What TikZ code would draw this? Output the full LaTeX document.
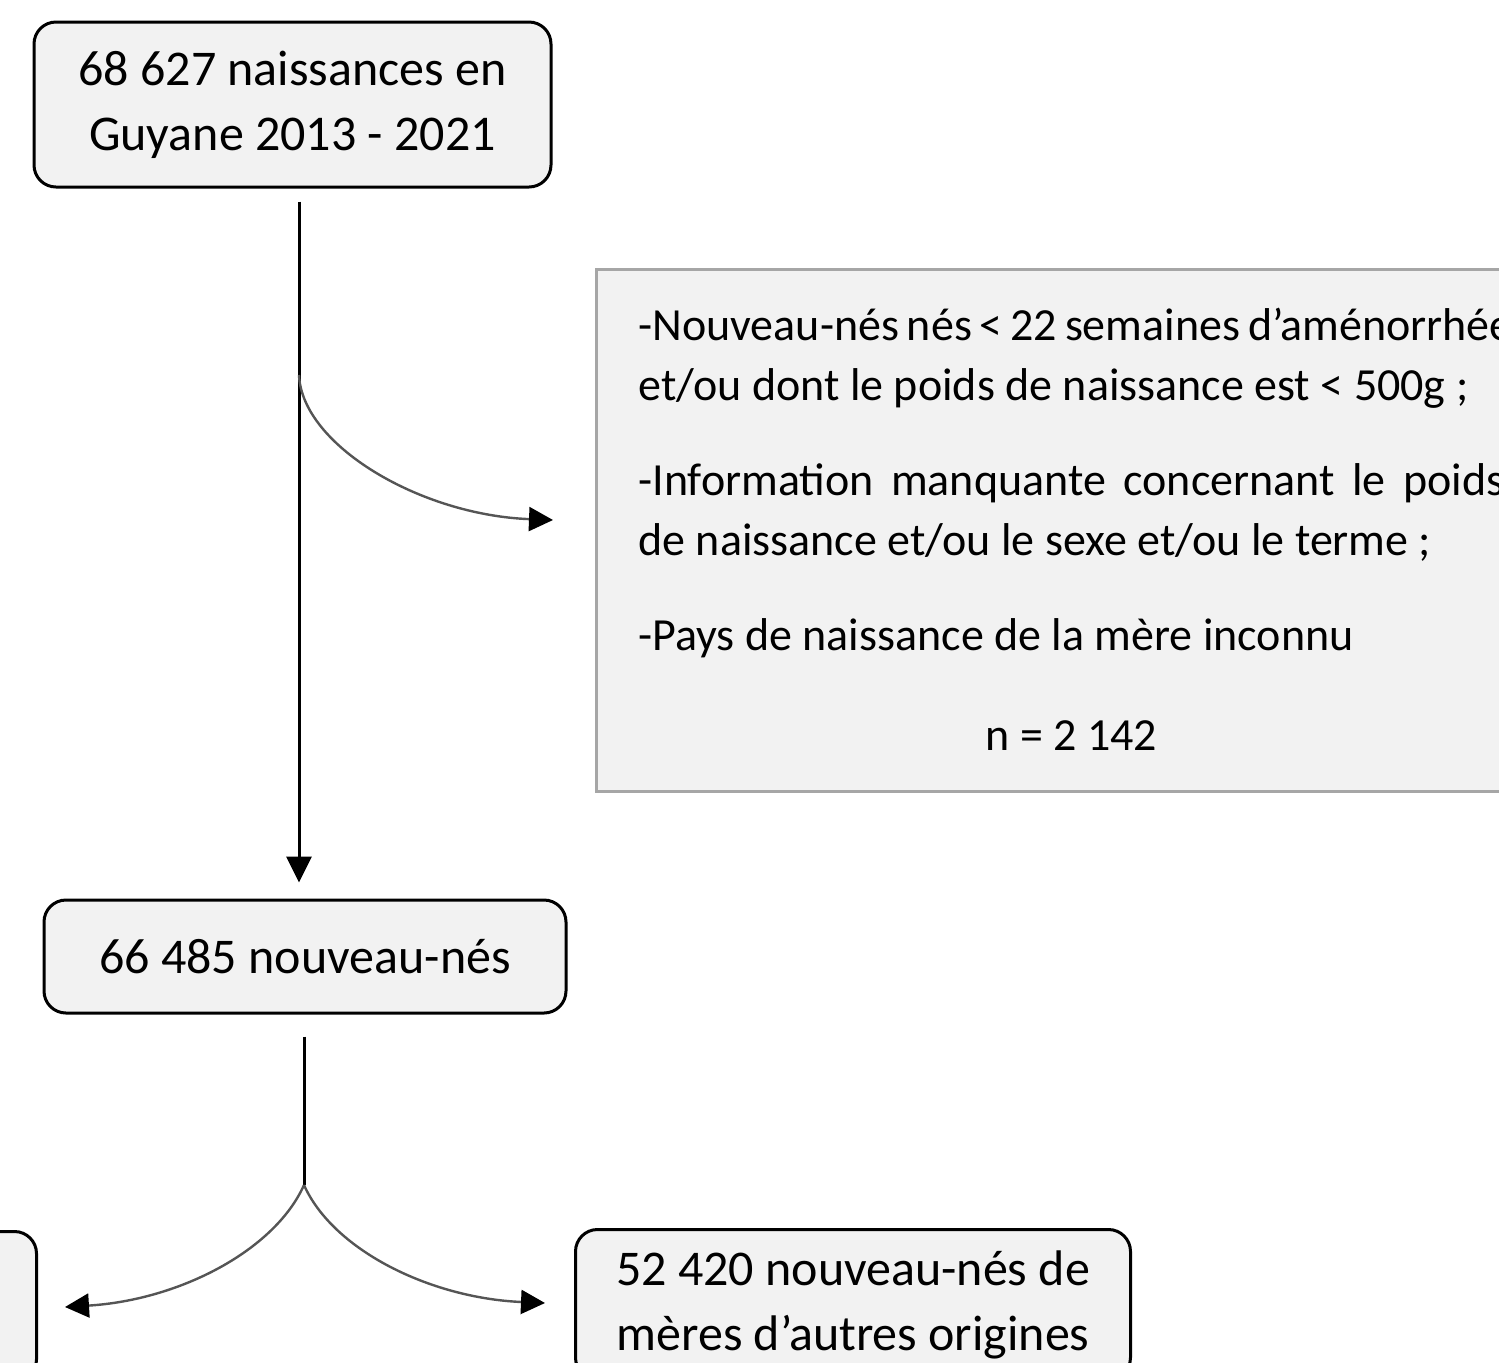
\documentclass[tikz,border=0pt]{standalone}
\usepackage{fontspec}
\setmainfont{Carlito}
\usetikzlibrary{arrows.meta}
\definecolor{boxfill}{HTML}{F2F2F2}
\definecolor{exclborder}{HTML}{A6A6A6}
\definecolor{curvegrey}{HTML}{555555}
\tikzset{
  flowbox/.style={draw=black, line width=1.5pt, fill=boxfill, rounded corners=11pt,
    align=center, inner sep=0pt, font=\fontsize{25}{32.5}\selectfont},
  exclbox/.style={draw=exclborder, line width=1.5pt, fill=boxfill, inner sep=0pt},
  mainline/.style={draw=black, line width=1.5pt, -{Triangle[length=13pt,width=12.5pt]}},
  plainline/.style={draw=black, line width=1.5pt},
  curvearrow/.style={draw=curvegrey, line width=1.2pt, -{Triangle[length=12pt,width=12pt,color=black]}},
}
\begin{document}
\begin{tikzpicture}[x=0.5pt, y=-0.5pt]
\useasboundingbox (0,0) rectangle (1499,1362);
\clip (0,0) rectangle (1499,1362);

% boxes
\node[flowbox, minimum width=258.5pt, minimum height=82.5pt] (b1) at (292.5,104.5)
  {68 627 naissances en\\Guyane 2013 - 2021};
\node[exclbox, anchor=north west, minimum width=476pt, minimum height=261pt] (excl) at (595,268) {};
\node[anchor=base west, inner sep=0pt] (excltxt) at (638,340)
  {\parbox[t]{433pt}{\fontsize{23}{30}\selectfont\raggedright\setlength{\parindent}{0pt}%
  \mbox{\spaceskip=0.17em plus 0.05em -Nouveau-nés nés < 22 semaines d’aménorrhée}\\
  et/ou dont le poids de naissance est < 500g ;\\[17.5pt]
  \makebox[433pt][s]{-Information manquante concernant le poids}\\
  de naissance et/ou le sexe et/ou le terme ;\\[17.5pt]
  -Pays de naissance de la mère inconnu\\[20pt]
  \makebox[433pt]{n = 2 142}}};
\node[flowbox, minimum width=261pt, minimum height=56.5pt] (b2) at (305,956.5)
  {66 485 nouveau-nés};
\node[flowbox, anchor=north east, minimum width=260pt, minimum height=75pt] (b3) at (38,1230) {};
\node[flowbox, anchor=north west, minimum width=277.5pt, minimum height=75pt] (b4) at (574,1228)
  {52 420 nouveau-nés de\\mères d’autres origines};

% coordinates
\coordinate (x1) at (299,0);
\coordinate (j1) at (299,375);
\coordinate (t1) at (553,520);
\coordinate (x2) at (304,0);
\coordinate (j2) at (304,1185);
\coordinate (tl) at (65,1307);
\coordinate (tr) at (545,1303);

% connectors
\draw[mainline, shorten <=6.5pt, shorten >=8pt] (b1.south -| x1) -- (b2.north -| x1);
\draw[curvearrow] (j1) .. controls (302,445) and (420,515) .. (t1);
\draw[plainline, shorten <=11pt] (b2.south -| x2) -- (j2);
\draw[curvearrow] (j2) .. controls (275,1250) and (180,1300) .. (tl);
\draw[curvearrow] (j2) .. controls (333,1250) and (430,1298) .. (tr);
\end{tikzpicture}
\end{document}
